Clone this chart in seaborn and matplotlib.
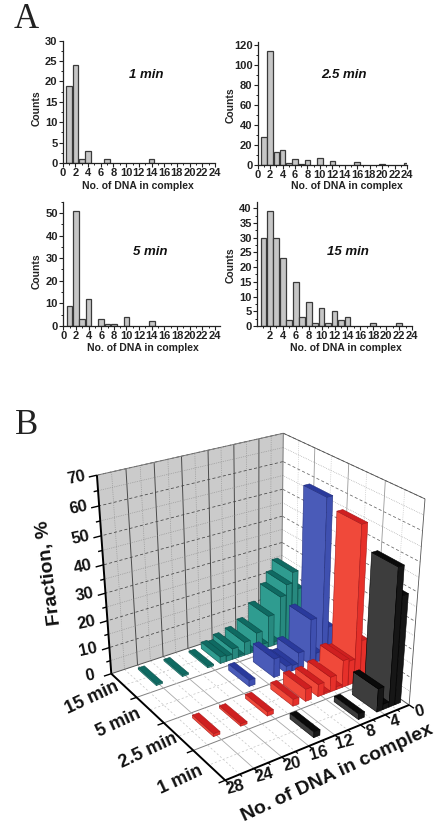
import numpy as np
import seaborn as sns
import matplotlib
matplotlib.use("Agg")
import matplotlib.pyplot as plt
from mpl_toolkits.mplot3d import proj3d
from mpl_toolkits.mplot3d.art3d import Poly3DCollection

# panel A histograms: number of DNA in complex vs counts
x_1min = [1, 2, 3, 4, 7, 14]
y_1min = [19, 24, 1, 3, 1, 1]
x_25min = [1, 2, 3, 4, 5, 6, 7, 8, 10, 12, 16, 20, 24]
y_25min = [28, 114, 13, 15, 2, 6, 1, 5, 7, 4, 3, 1, 2]
x_5min = [1, 2, 3, 4, 6, 7, 8, 10, 14]
y_5min = [9, 51, 3, 12, 3, 1, 1, 4, 2]
x_15min = [1, 2, 3, 4, 5, 6, 7, 8, 9, 10, 11, 12, 13, 14, 18, 22]
y_15min = [30, 39, 30, 23, 2, 15, 3, 8, 1, 6, 1, 5, 2, 3, 1, 1]

# panel B fractions, %
frac_x_15min = [1, 2, 3, 4, 5, 6, 7, 8, 9, 10, 11, 12, 13, 14, 16, 20, 24]
frac_15min = [19, 26, 22, 18, 1.2, 12, 1.8, 7, 0.6, 5, 0.6, 4, 2, 2.5, 0.6, 0.6, 0.6]
frac_x_5min = [1, 2, 3, 4, 6, 7, 8, 10, 14]
frac_5min = [12, 59.3, 3.5, 17, 6, 2, 2.5, 7, 2.3]
frac_x_25min = [1, 2, 3, 4, 5, 6, 7, 8, 10, 12, 16, 20, 24]
frac_25min = [15, 56.4, 9, 10, 1, 5.5, 0.5, 4.5, 4.5, 2.5, 1.5, 0.8, 1]
frac_x_1min = [1, 2, 3, 4, 7, 14]
frac_1min = [38.8, 49, 2, 8.5, 2, 2]
time_labels = ["15 min", "5 min", "2.5 min", "1 min"]
number_ticks = [0, 4, 8, 12, 16, 20, 24, 28]
fraction_ticks = [0, 10, 20, 30, 40, 50, 60, 70]

W, H = 440, 824
sns.set_style("ticks")
plt.rcParams["font.family"] = ["Liberation Sans", "DejaVu Sans"]
plt.rcParams["font.weight"] = "bold"
plt.rcParams["axes.labelweight"] = "bold"
fig = plt.figure(figsize=(W / 100, H / 100), dpi=100)


def hist_panel(left, right, top, bottom, xs, ys, ymax, yticks, yminor, xticks, note, note_xy, xlab_xy, ylab_xy, xmax=24):
    ax = fig.add_axes([left / W, 1 - bottom / H, (right - left) / W, (bottom - top) / H])
    sns.barplot(x=xs, y=ys, native_scale=True, width=0.9, color="#c6c6c6", saturation=1,
                edgecolor="#3a3a3a", linewidth=0.9, ax=ax)
    ax.set_xlim(0, xmax)
    ax.set_ylim(0, ymax)
    ax.set_xticks(xticks)
    ax.set_xticks(range(1, 25, 2), minor=True)
    ax.set_yticks(yticks)
    ax.set_yticks(yminor, minor=True)
    ax.tick_params(axis="both", which="major", direction="out", length=3, width=0.8, pad=0.8, labelsize=8, color="#222222", labelcolor="#222222")
    ax.tick_params(axis="both", which="minor", direction="out", length=1.6, width=0.7, color="#222222")
    sns.despine(ax=ax)
    for side in ("left", "bottom"):
        ax.spines[side].set_linewidth(0.9)
        ax.spines[side].set_color("#222222")
    ax.set_xlabel("No. of DNA in complex", fontsize=7.5, color="#222222")
    ax.set_ylabel("Counts", fontsize=7.5, color="#222222")
    ax.xaxis.set_label_coords(xlab_xy[0] / W, 1 - xlab_xy[1] / H, transform=fig.transFigure)
    ax.yaxis.set_label_coords(ylab_xy[0] / W, 1 - ylab_xy[1] / H, transform=fig.transFigure)
    ax.xaxis.get_label().set_va("center")
    ax.yaxis.get_label().set_va("center")
    fig.text(note_xy[0] / W, 1 - note_xy[1] / H, note, fontsize=9.5, style="italic", ha="center", va="center", color="#111111")
    return ax


hist_panel(62.7, 215, 40.7, 163, x_1min, y_1min, 30, range(0, 31, 5), np.arange(2.5, 30, 5),
           range(0, 25, 2), "1 min", (146, 75), (138, 186), (37, 108))
hist_panel(257.7, 407, 42, 165, x_25min, y_25min, 123, range(0, 121, 20), range(10, 121, 20),
           range(0, 25, 2), "2.5 min", (344, 75), (347, 186), (231, 105))
hist_panel(63.3, 220, 201.7, 326, x_5min, y_5min, 55, range(0, 51, 10), range(5, 56, 10),
           range(0, 25, 2), "5 min", (150, 252), (143, 348), (37, 271), xmax=24.8)
hist_panel(257, 412, 201.7, 326, x_15min, y_15min, 42.2, range(0, 41, 5), np.arange(2.5, 41, 5),
           range(2, 25, 2), "15 min", (348, 252), (346, 348), (231, 265))

# panel B, camera values were fitted to the corners of the walls
s, tx, ty = 2049.53, 256.62, 592.72
size = s * 0.185
ax3 = fig.add_axes([(tx - s * 0.095) / W, (H - ty - s * 0.095) / H, size / W, size / H],
                   projection="3d", computed_zorder=False)
ax3.set_xlim(0, 28, view_margin=0)
ax3.set_ylim(0, 4, view_margin=0)
ax3.set_zlim(0, 70, view_margin=0)
ax3.view_init(elev=27.22, azim=55.76)
ax3.set_proj_type("persp", focal_length=0.5248)
ax3.set_box_aspect((1, 1.0104, 1.0145))
ax3.set_axis_off()
ax3.patch.set_alpha(0)


def line3(xs, ys, zs, color="#555555", lw=0.6, ls="-", zorder=3):
    ax3.plot(xs, ys, zs, color=color, lw=lw, ls=ls, zorder=zorder, solid_capstyle="butt")


def wall(corners, color):
    ax3.add_collection3d(Poly3DCollection([corners], facecolors=color, edgecolors="none", zorder=1))


wall([(0, 0, 0), (28, 0, 0), (28, 0, 70), (0, 0, 70)], "#cbcbcb")
wall([(0, 0, 0), (0, 4, 0), (0, 4, 70), (0, 0, 70)], "#ffffff")

# grid on the back wall
for v in range(4, 28, 4):
    line3([v, v], [0, 0], [0, 70], color="#4a4a4a", lw=0.7)
for v in range(2, 28, 4):
    line3([v, v], [0, 0], [0, 70], color="#8a8a8a", lw=0.5, ls=":")
for v in range(10, 71, 10):
    line3([0, 28], [0, 0], [v, v], color="#444444", lw=0.55, ls=(0, (4, 3)))
    line3([0, 0], [0, 4], [v, v], color="#666666", lw=0.55, ls=(0, (4, 3)))
for v in range(5, 70, 10):
    line3([0, 28], [0, 0], [v, v], color="#8a8a8a", lw=0.5, ls=":")
    line3([0, 0], [0, 4], [v, v], color="#999999", lw=0.5, ls=":")
# grid on the right wall
for v in (1, 2, 3):
    line3([0, 0], [v, v], [0, 70], color="#999999", lw=0.6)
for v in (0.5, 1.5, 2.5, 3.5):
    line3([0, 0], [v, v], [0, 70], color="#bbbbbb", lw=0.5, ls=":")
# grid on the floor
for v in (1, 2, 3):
    line3([0, 28], [v, v], [0, 0], color="#808080", lw=0.7)
for v in (0.5, 1.5, 2.5, 3.5):
    line3([0, 28], [v, v], [0, 0], color="#c4c4c4", lw=0.5, ls=(0, (3, 3)))
for v in range(4, 28, 4):
    line3([v, v], [0, 4], [0, 0], color="#a8a8a8", lw=0.6)
for v in range(2, 28, 4):
    line3([v, v], [0, 4], [0, 0], color="#c4c4c4", lw=0.5, ls=(0, (3, 3)))
# outline of the walls
line3([0, 0], [0, 0], [0, 70], color="#777777", lw=0.7)
line3([0, 28], [0, 0], [70, 70], color="#777777", lw=0.7)
line3([0, 0], [0, 4], [70, 70], color="#555555", lw=0.6)
line3([0, 0], [4, 4], [0, 70], color="#555555", lw=0.6)
line3([0, 28], [0, 0], [0, 0], color="#555555", lw=0.7)
line3([0, 0], [0, 4], [0, 0], color="#555555", lw=0.7)

bar_zorder = 10


def bars(band, xs, vals, side_face, front_face, top_face, edge):
    global bar_zorder
    y0, y1 = band + 0.15, band + 0.85
    for x, h in sorted(zip(xs, vals)):
        x0, x1 = x - 0.47, x + 0.47
        faces = [
            [(x1, y0, 0), (x1, y1, 0), (x1, y1, h), (x1, y0, h)],
            [(x0, y1, 0), (x1, y1, 0), (x1, y1, h), (x0, y1, h)],
            [(x0, y0, h), (x1, y0, h), (x1, y1, h), (x0, y1, h)],
        ]
        ax3.add_collection3d(Poly3DCollection(faces, facecolors=[side_face, front_face, top_face],
                                              edgecolors=edge, linewidths=0.4, zorder=bar_zorder))
        bar_zorder += 1


bars(0, frac_x_15min, frac_15min, "#2f9c90", "#27897f", "#0f6a62", "#0b4f49")
bars(1, frac_x_5min, frac_5min, "#4a5bb8", "#3f50b0", "#2a3a9c", "#232f80")
bars(2, frac_x_25min, frac_25min, "#f0493a", "#e6302a", "#cf1f20", "#a81818")
bars(3, frac_x_1min, frac_1min, "#3d3d3d", "#161616", "#0a0a0a", "#000000")

# the three thick axes with their ticks
line3([28, 28], [0, 0], [0, 70], color="#000000", lw=1.4, zorder=60)
line3([28, 28], [0, 4], [0, 0], color="#000000", lw=1.4, zorder=60)
line3([0, 28], [4, 4], [0, 0], color="#000000", lw=1.4, zorder=60)
for v in range(0, 71, 5):
    reach = 29.1 if v % 10 == 0 else 28.6
    line3([28, reach], [0, 0], [v, v], color="#000000", lw=1.0, zorder=60)
for v in (1, 2, 3, 4):
    line3([28, 28.9], [v, v], [0, 0], color="#000000", lw=1.0, zorder=60)
for v in number_ticks:
    line3([v, v], [4, 4.13], [0, 0], color="#000000", lw=1.0, zorder=60)
for v in range(2, 28, 4):
    line3([v, v], [4, 4.07], [0, 0], color="#000000", lw=0.8, zorder=60)

M = ax3.get_proj()


def label3(x, y, z, text, dx, dy, rotation, size):
    px, py, _ = proj3d.proj_transform(x, y, z, M)
    ax3.annotate(text, xy=(px, py), xycoords="data", xytext=(dx, -dy), textcoords="offset pixels",
                 ha="center", va="center", rotation=rotation, fontsize=size, color="#111111",
                 annotation_clip=False, rotation_mode="anchor", zorder=70)


for v in fraction_ticks:
    label3(28, 0, v, str(v), -21, 2, 12, 12)
for v, lab in zip((1, 2, 3, 4), time_labels):
    label3(28, v, 0, lab, -45, 0, 25, 13)
for v in number_ticks:
    label3(v, 4, 0, str(v), 10, 7, 15, 12)

fig.text(49 / W, 1 - 573 / H, "Fraction, %", fontsize=14, rotation=97, ha="center", va="center", color="#111111")
fig.text(337 / W, 1 - 773 / H, "No. of DNA in complex", fontsize=14, rotation=25, ha="center", va="center", color="#111111")

# panel letters
fig.text(26 / W, 1 - 20 / H, "A", fontsize=25, family="Liberation Serif", weight="normal", ha="center", va="center", color="#222222")
fig.text(27 / W, 1 - 425 / H, "B", fontsize=25, family="Liberation Serif", weight="normal", ha="center", va="center", color="#222222")

fig.savefig("out.png", dpi=100)
